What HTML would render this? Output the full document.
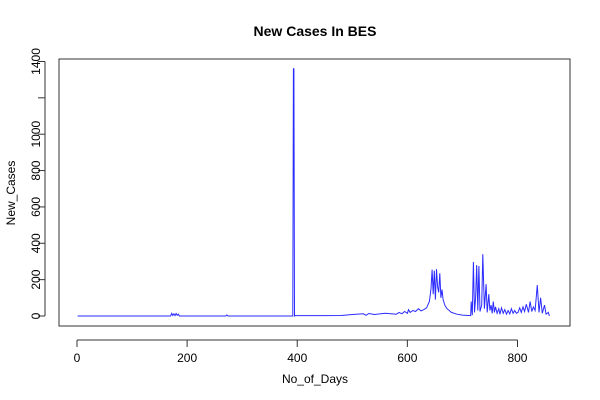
<!DOCTYPE html>
<html><head><meta charset="utf-8"><style>
body{margin:0;background:#fff;}
svg{display:block;font-family:"Liberation Sans",sans-serif;}
</style></head><body>
<svg id="chart" width="600" height="400">
<text x="315" y="36" text-anchor="middle" font-size="14" font-weight="bold">New Cases In BES</text>
<rect x="59" y="59" width="511" height="267" fill="none" stroke="#333"/>
<text x="315" y="383" text-anchor="middle" font-size="12">No_of_Days</text>
<text transform="translate(15,193) rotate(-90)" text-anchor="middle" font-size="12">New_Cases</text>
<g id="xaxis"></g>
<g id="yaxis"></g>
<polyline id="line" fill="none" stroke="#2b2bff" stroke-width="1"/>
</svg>
<script>
const xTicks=[0,200,400,600,800];
const yTicks=[0,200,400,600,800,1000,1200,1400];
const yLabels=["0","200","400","600","800","1000","","1400"];
const days=[1,170,172,174,176,178,180,182,184,186,190,270,272,274,392,393,394,395,396,450,480,500,520,525,530,540,560,580,585,590,595,600,602,605,610,615,620,625,630,635,640,643,645,647,649,651,653,655,657,659,661,663,665,668,672,676,680,690,700,715,716,718,720,722,724,726,728,730,732,735,737,740,743,745,748,750,752,754,756,758,760,763,766,768,771,774,777,780,783,786,789,792,795,798,801,804,807,810,813,816,820,823,826,829,832,836,839,842,845,849,852,856,858];
const cases=[0,0,15,3,12,2,14,4,10,0,0,0,6,0,0,1360,1360,0,2,2,3,8,12,4,14,8,15,10,20,12,25,15,35,20,30,25,40,28,35,45,80,150,255,120,250,90,258,160,130,235,100,145,90,60,40,30,20,10,5,2,80,5,297,20,100,280,30,275,25,60,340,40,175,20,120,30,60,15,80,20,50,15,40,10,45,15,35,10,30,12,40,15,30,15,20,45,20,50,25,65,20,80,25,50,30,170,20,100,15,60,10,20,0];
const X=d=>77+d*0.5506, Y=v=>316-v*0.1818;
const ns="http://www.w3.org/2000/svg";
const xa=document.getElementById('xaxis'), ya=document.getElementById('yaxis');
function mk(t,a,p){const e=document.createElementNS(ns,t);for(const k in a)e.setAttribute(k,a[k]);p.appendChild(e);return e;}
mk('line',{x1:X(0),x2:X(800),y1:340,y2:340,stroke:'#333'},xa);
xTicks.forEach(v=>{
  const t=mk('line',{x1:X(v),x2:X(v),y1:340,y2:347,stroke:'#333'},xa);
  
  
  const l=mk('text',{x:X(v),y:362,'text-anchor':'middle','font-size':12},xa);l.textContent=v;
  
  
});
mk('line',{x1:45,x2:45,y1:Y(0),y2:Y(1400),stroke:'#333'},ya);
yTicks.forEach((v,i)=>{
  const t=mk('line',{x1:38,x2:45,y1:Y(v),y2:Y(v),stroke:'#333'},ya);
  
  
  if(yLabels[i]){const l=mk('text',{transform:`translate(40,${Y(v)}) rotate(-90)`,'text-anchor':'middle','font-size':12},ya);l.textContent=yLabels[i];
  
  }
});
document.getElementById('line').setAttribute('points',days.map((d,i)=>X(d).toFixed(1)+','+Y(cases[i]).toFixed(1)).join(' '));
</script>
</body></html>
